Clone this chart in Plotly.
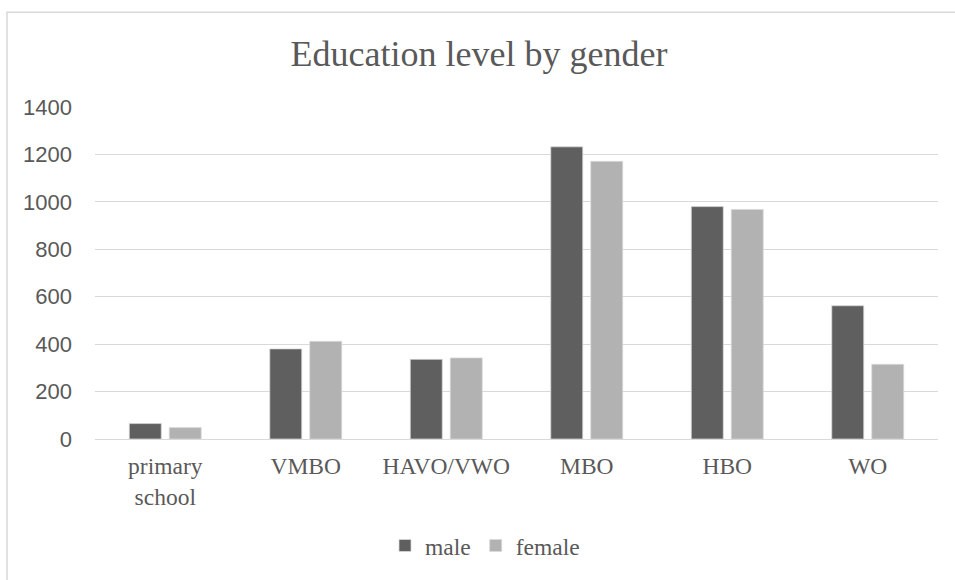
import plotly.graph_objects as go

categories = ["primary<br>school", "VMBO", "HAVO/VWO", "MBO", "HBO", "WO"]
male = [65, 380, 336, 1232, 980, 562]
female = [48, 412, 342, 1171, 968, 315]
y_ticks = [0, 200, 400, 600, 800, 1000, 1200, 1400]

W, H = 955, 580
L, R, T, B = 95, 17, 107, 137
pw, ph = W - L - R, H - T - B

fig = go.Figure()
fig.add_trace(go.Bar(name="male", x=categories, y=male,
                     marker=dict(color="#5f5f5f", line=dict(color="#d9d9d9", width=0.75))))
fig.add_trace(go.Bar(name="female", x=categories, y=female,
                     marker=dict(color="#b2b2b2", line=dict(color="#d9d9d9", width=0.75))))

# chart border (left & top visible)
bx = (7 - L) / pw
by = (H - B - 11) / ph
fig.add_shape(type="rect", xref="paper", yref="paper", x0=bx, x1=1.2, y0=-0.6, y1=by,
              line=dict(color="#d9d9d9", width=1.5), fillcolor="rgba(0,0,0,0)", layer="below")

fig.update_layout(
    width=W, height=H,
    margin=dict(l=L, r=R, t=T, b=B, pad=0),
    paper_bgcolor="white", plot_bgcolor="white",
    font=dict(family="Liberation Serif", color="#595959"),
    barmode="group", bargap=0.431, bargroupgap=0.2,
    title=dict(text="Education level by gender", x=479 / W, xanchor="center",
               y=1 - 53 / H, yanchor="middle", yref="container",
               font=dict(family="Liberation Serif", size=36, color="#595959")),
    xaxis=dict(tickfont=dict(family="Liberation Serif", size=23.5, color="#595959"),
               showgrid=False, showline=True, linecolor="#d9d9d9", linewidth=1,
               ticks="", ticklabelstandoff=6),
    yaxis=dict(range=[0, 1400], tickvals=y_ticks, ticktext=[str(v) for v in y_ticks],
               tickfont=dict(family="Liberation Sans", size=22, color="#595959"),
               showgrid=True, gridcolor="#d9d9d9", gridwidth=1, zeroline=False,
               showline=False, ticks="", ticklabelstandoff=22),
    legend=dict(orientation="h", x=(385 - L) / pw, xanchor="left",
                y=-(551 - (H - B)) / ph, yanchor="middle",
                font=dict(family="Liberation Serif", size=23.5, color="#595959"),
                itemclick=False),
    showlegend=True,
)

fig.write_html("out.html")
